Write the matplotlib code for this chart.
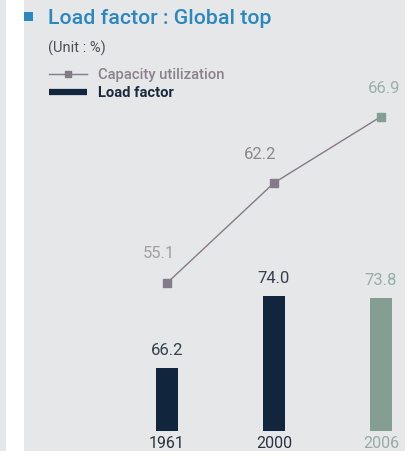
import matplotlib.pyplot as plt
from matplotlib.patches import Rectangle

# Data
years = ['1961', '2000', '2006']
load_factor = [66.2, 74.0, 73.8]
capacity_util = [55.1, 62.2, 66.9]

W, H = 406, 452
BG = '#e6e7e9'
NAVY = '#11263c'
GREEN = '#849e94'
MAUVE = '#857a87'
BLUE = '#2b87bd'
NUMFONT = dict(family='Roboto', fontweight='normal')

fig = plt.figure(figsize=(W / 100, H / 100), dpi=100)
fig.patch.set_facecolor(BG)
fig.patches.append(Rectangle((6 / W, 0), 18 / W, 1, transform=fig.transFigure,
                             facecolor='white', edgecolor='none', zorder=0))


def fx(px):
    return px / W


def fy(py):
    return 1 - py / H


# header
fig.patches.append(Rectangle((fx(24), fy(22)), 9 / W, 9 / H, transform=fig.transFigure,
                             facecolor=BLUE, edgecolor='none'))
fig.text(fx(48), fy(19), 'Load factor : Global top', color=BLUE, fontsize=15.3,
         fontweight='medium', family='Roboto', va='center', ha='left')
fig.text(fx(48), fy(48), '(Unit : %)', color='#4a4f55', fontsize=10.5,
         family='Roboto', fontweight='normal', va='center', ha='left')

# legend
fig.add_artist(plt.Line2D([fx(49), fx(87)], [fy(75), fy(75)], color=MAUVE, lw=1,
                          transform=fig.transFigure))
fig.add_artist(plt.Line2D([fx(68)], [fy(75)], color=MAUVE, marker='s', markersize=5,
                          transform=fig.transFigure))
fig.text(fx(98), fy(75), 'Capacity utilization', color='#8a818b', fontsize=10.6,
         family='Roboto', fontweight='medium', va='center', ha='left')
fig.add_artist(plt.Line2D([fx(49), fx(87)], [fy(93), fy(93)], color=NAVY, lw=4.5,
                          transform=fig.transFigure, solid_capstyle='butt'))
fig.text(fx(98), fy(93), 'Load factor', color='#1a2a3c', fontsize=10.6,
         family='Roboto', fontweight='bold', va='center', ha='left')

# axes geometry (pixel based)
spacing = 107
x0 = 167
left = x0 - 0.4 * spacing
right = x0 + 2.25 * spacing
bottom_px, top_px = 432, 100
ax = fig.add_axes([fx(left), fy(bottom_px), (right - left) / W, (bottom_px - top_px) / H])
ax.set_facecolor('none')
ax.set_xlim(-0.4, 2.25)
kb = 9.23
vb0 = 59.37
ax.set_ylim(vb0, vb0 + (bottom_px - top_px) / kb)
xs = range(len(years))
bar_colors = [NAVY, NAVY, GREEN]
ax.bar(xs, load_factor, width=0.2, color=bar_colors, zorder=2)
lab_colors = ['#34404e', '#34404e', '#98ada4']
for x, v, c in zip(xs, load_factor, lab_colors):
    ax.annotate(f'{v:.1f}', (x, v), xytext=(0, 13), textcoords='offset points',
                ha='center', va='center', fontsize=12, color=c, **NUMFONT)
ax.set_xticks(list(xs))
ax.set_xticklabels(years, fontsize=11.5, **NUMFONT)
for t, c in zip(ax.get_xticklabels(), ['#2a3340', '#2a3340', '#98aba3']):
    t.set_color(c)
ax.tick_params(axis='x', length=0, pad=3)
ax.set_yticks([])
for s in ax.spines.values():
    s.set_visible(False)

ax2 = ax.twinx()
kl = 14.1
vl0 = 55.1 - (bottom_px - 284) / kl
ax2.set_ylim(vl0, vl0 + (bottom_px - top_px) / kl)
ax2.plot(list(xs), capacity_util, color=MAUVE, lw=1, zorder=3)
mk_colors = [MAUVE, MAUVE, GREEN]
for x, v, c in zip(xs, capacity_util, mk_colors):
    ax2.plot([x], [v], marker='s', markersize=5.5, color=c, zorder=4)
line_lab_colors = ['#a39ea4', '#8c868d', '#9db0a8']
offsets = [(-6, 22), (-10, 21), (2, 21)]
for x, v, c, o in zip(xs, capacity_util, line_lab_colors, offsets):
    ax2.annotate(f'{v:.1f}', (x, v), xytext=o, textcoords='offset points',
                 ha='center', va='center', fontsize=12, color=c, **NUMFONT)
ax2.set_yticks([])
for s in ax2.spines.values():
    s.set_visible(False)

fig.savefig('out.png', dpi=100, facecolor=fig.get_facecolor())
